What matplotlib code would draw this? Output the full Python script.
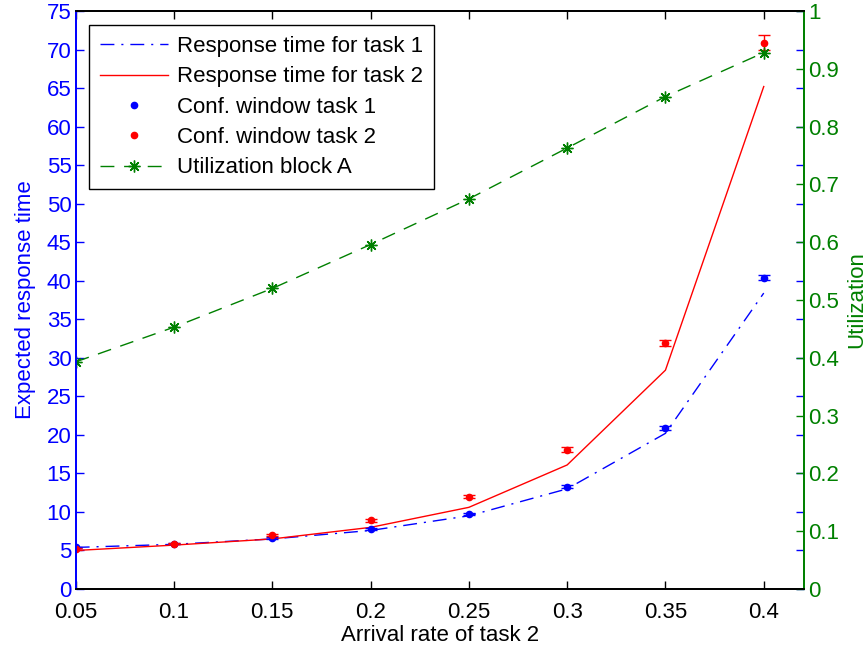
import matplotlib
matplotlib.use("Agg")
import matplotlib.pyplot as plt

plt.rcParams['font.family'] = ['Liberation Sans', 'DejaVu Sans']
plt.rcParams['font.size'] = 16

# Arrival rate of task 2
arrival = [0.05, 0.10, 0.15, 0.20, 0.25, 0.30, 0.35, 0.40]

# Analytical response times
resp_task1 = [5.4, 5.8, 6.5, 7.6, 9.5, 13.0, 20.2, 38.4]
resp_task2 = [5.0, 5.7, 6.5, 8.0, 10.6, 16.1, 28.4, 65.2]

# Simulated means with confidence half-widths
sim_task1 = [5.4, 5.9, 6.6, 7.8, 9.7, 13.3, 20.9, 40.4]
ci_task1 = [0.1, 0.1, 0.1, 0.15, 0.15, 0.2, 0.25, 0.3]
sim_task2 = [5.2, 5.9, 7.0, 8.9, 12.0, 18.1, 31.9, 70.9]
ci_task2 = [0.1, 0.1, 0.15, 0.2, 0.2, 0.3, 0.35, 1.0]

# Utilization of block A
util_a = [0.393, 0.453, 0.520, 0.596, 0.675, 0.763, 0.852, 0.928]

xticks = [0.05, 0.1, 0.15, 0.2, 0.25, 0.3, 0.35, 0.4]
xticklabels = ['0.05', '0.1', '0.15', '0.2', '0.25', '0.3', '0.35', '0.4']
yticks_left = list(range(0, 80, 5))
yticks_right = [i / 10 for i in range(11)]
yticklabels_right = ['0'] + ['%.1f' % v for v in yticks_right[1:-1]] + ['1']

BLUE = (0, 0, 1)
RED = (1, 0, 0)
GREEN = (0, 0.5, 0)

fig = plt.figure(figsize=(8.66, 6.48), dpi=100)
ax = fig.add_axes([0.0874, 0.091, 0.8406, 0.892])
ax2 = ax.twinx()

l1, = ax.plot(arrival, resp_task1, color=BLUE, lw=1.0, ls=(0, (10, 5, 1.5, 5)),
              label='Response time for task 1')
l2, = ax.plot(arrival, resp_task2, color=RED, lw=1.0, ls='-',
              label='Response time for task 2')
e1 = ax.errorbar(arrival, sim_task1, yerr=ci_task1, fmt='o', color=BLUE,
                 ms=4.5, capsize=4.5, elinewidth=1.0, capthick=1.0,
                 label='Conf. window task 1')
e2 = ax.errorbar(arrival, sim_task2, yerr=ci_task2, fmt='o', color=RED,
                 ms=4.5, capsize=4.5, elinewidth=1.0, capthick=1.0,
                 label='Conf. window task 2')
l5, = ax2.plot(arrival, util_a, color=GREEN, lw=1.0, ls=(0, (10, 7)),
               marker=(8, 2, 0), ms=8.5, mew=1.0,
               label='Utilization block A')

ax.set_xlim(0.05, 0.4203)
ax.set_ylim(0, 75)
ax2.set_ylim(0, 1)

ax.set_xticks(xticks)
ax.set_xticklabels(xticklabels)
ax.set_yticks(yticks_left)
ax2.set_yticks(yticks_right)
ax2.set_yticklabels(yticklabels_right)

ax.tick_params(axis='x', direction='in', top=True, length=6, width=1,
               colors='black', pad=9)
ax.tick_params(axis='y', direction='in', right=True, length=6, width=1,
               colors=BLUE, pad=3)
ax2.tick_params(axis='y', direction='in', length=6, width=1,
                colors=GREEN, pad=3)

for a in (ax, ax2):
    a.spines['left'].set_color(BLUE)
    a.spines['right'].set_color(GREEN)
    a.spines['top'].set_color('black')
    a.spines['bottom'].set_color('black')
    for s in a.spines.values():
        s.set_linewidth(1.3)

ax.set_xlabel('Arrival rate of task 2', color='black', labelpad=2)
ax.set_ylabel('Expected response time', color=BLUE, labelpad=8)
ax2.set_ylabel('Utilization', color=GREEN, labelpad=5)

handles = [l1, l2, e1[0], e2[0], l5]
labels = ['Response time for task 1', 'Response time for task 2',
          'Conf. window task 1', 'Conf. window task 2', 'Utilization block A']
leg = ax2.legend(handles, labels, loc='upper left',
                 bbox_to_anchor=(0.018, 0.976), fancybox=False, framealpha=1,
                 edgecolor='black', handlelength=3.05, handletextpad=0.4,
                 labelspacing=0.42, borderpad=0.5, borderaxespad=0.0)
leg.get_frame().set_linewidth(1.0)

fig.savefig('out.png', dpi=100)
